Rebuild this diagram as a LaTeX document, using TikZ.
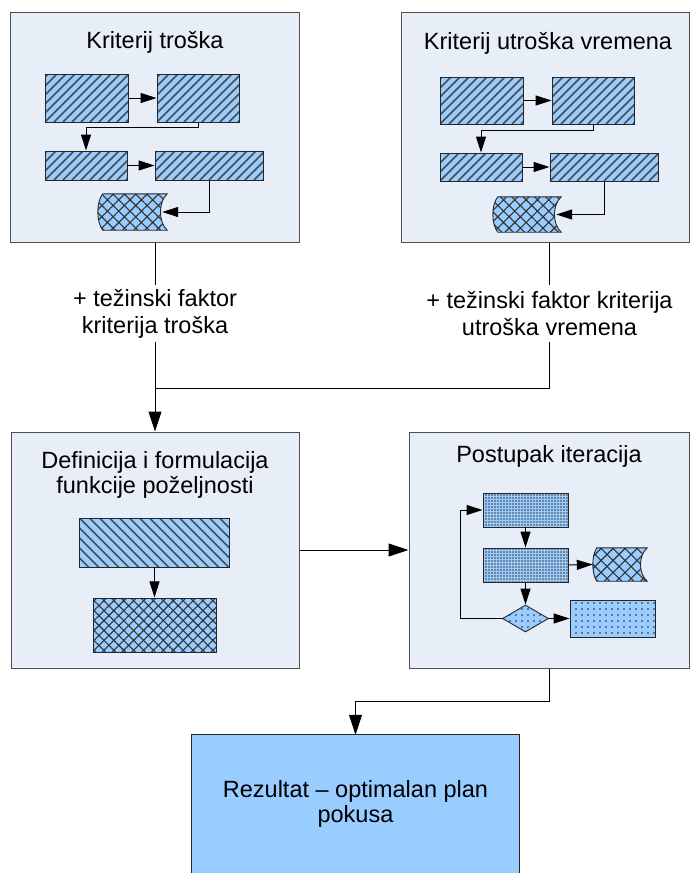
\documentclass[tikz,border=0pt]{standalone}
\usepackage{fontspec}
\setmainfont{Liberation Sans}
\usetikzlibrary{arrows.meta,patterns.meta,shapes.geometric,calc}
\definecolor{boxbg}{HTML}{E8EEF7}
\definecolor{boxline}{HTML}{505050}
\definecolor{rectblue}{HTML}{99CCFF}
\tikzset{
  cont/.style={draw=boxline, fill=boxbg, line width=1pt, inner sep=0pt},
  sbase/.style={draw=black!85, line width=0.9pt, inner sep=0pt, preaction={fill=rectblue}},
  hatchne/.style={draw=black!85, line width=0.9pt, inner sep=0pt, fill=rectblue,
    path picture={\foreach \i in {-63,-54,...,130}
      \draw[line width=1.6pt, black!70] ($(path picture bounding box.south west)+(\i,0)$) -- ++(80,-80);}},
  hatchnw/.style={draw=black!85, line width=0.9pt, inner sep=0pt, fill=rectblue,
    path picture={\foreach \i in {-60,-50,...,170}
      \draw[line width=1.6pt, black!70] ($(path picture bounding box.north west)+(\i,0)$) -- ++(80,80);}},
  xhatch/.style={sbase, pattern={Hatch[angle=45,distance=7pt,line width=1.1pt]}, pattern color=black!80},
  densedots/.style={sbase, pattern={Dots[distance=3pt,radius=0.85pt]}, pattern color=black!75},
  sparsedots/.style={sbase, pattern={Dots[distance=6pt,radius=0.9pt]}, pattern color=black!85},
  hold/.style={inner sep=0pt, draw=none},
  conn/.style={line width=1pt, draw=black},
  arr/.style={conn, -{Triangle[length=20pt,width=13pt]}},
  sarr/.style={conn, -{Triangle[length=16pt,width=10pt]}},
  txt/.style={font=\fontsize{23.5}{27}\selectfont, inner sep=0pt, align=center},
  txtb/.style={font=\fontsize{23.5}{25}\selectfont, inner sep=0pt, align=center},
}
\newcommand\stordraw[3]{%
  \path[sbase, pattern={Hatch[angle=45,distance=#2pt,line width=1.1pt]}, pattern color=black!80]
    ($(#1.north west)+(#3,0)$) -- (#1.north east)
    .. controls ($(#1.north east)+(-9,8)$) and ($(#1.south east)+(-9,-8)$) .. (#1.south east)
    -- ($(#1.south west)+(#3,0)$)
    .. controls ($(#1.south west)+(-0.33*#3,-8)$) and ($(#1.north west)+(-0.33*#3,8)$) .. ($(#1.north west)+(#3,0)$)
    -- cycle;}
\begin{document}
\begin{tikzpicture}[x=1pt,y=-1pt]
\useasboundingbox (0,0) rectangle (690,873);

% containers
\node[cont, minimum width=289pt, minimum height=230pt] (k1) at (155,127) {};
\node[cont, minimum width=288pt, minimum height=230pt] (k2) at (545,127) {};
\node[cont, minimum width=288pt, minimum height=236pt] (k3) at (155,550) {};
\node[cont, minimum width=280pt, minimum height=236pt] (k4) at (549,550) {};

% titles
\node[txt, anchor=base] (t1) at (155,48) {Kriterij troška};
\node[txt, anchor=base] (t2) at (548,49) {Kriterij utroška vremena};
\node[txtb] (t3) at (155,474.5) {Definicija i formulacija\\funkcije poželjnosti};
\node[txt, anchor=base] (t4) at (549,462) {Postupak iteracija};

% box 1 inner
\node[hatchne, minimum width=83pt, minimum height=48pt] (a1) at (86.5,98) {};
\node[hatchne, minimum width=82pt, minimum height=48pt] (b1) at (198,98) {};
\node[hatchne, minimum width=82pt, minimum height=29pt] (c1) at (86,165.5) {};
\node[hatchne, minimum width=108pt, minimum height=29pt] (d1) at (209,165.5) {};
\node[hold, minimum width=69pt, minimum height=36pt] (s1) at (132.5,212) {};
\stordraw{s1}{8}{5}
\draw[sarr] (a1.east) -- (b1.west);
\draw[sarr] (b1.south) -- ++(0,5) -| (c1.north);
\draw[sarr] (c1.east) -- (d1.west);
\draw[sarr, shorten >=-5pt] (d1.south) |- (s1.east);

% box 2 inner
\node[hatchne, minimum width=83pt, minimum height=47pt] (a2) at (481.5,100.5) {};
\node[hatchne, minimum width=82pt, minimum height=47pt] (b2) at (593,100.5) {};
\node[hatchne, minimum width=82pt, minimum height=28pt] (c2) at (481,167) {};
\node[hatchne, minimum width=108pt, minimum height=28pt] (d2) at (604,167) {};
\node[hold, minimum width=68pt, minimum height=35pt] (s2) at (527,214.5) {};
\stordraw{s2}{8}{5}
\draw[sarr] (a2.east) -- (b2.west);
\draw[sarr] (b2.south) -- ++(0,6) -| (c2.north);
\draw[sarr] (c2.east) -- (d2.west);
\draw[sarr, shorten >=-5pt] (d2.south) |- (s2.east);

% box 3 inner
\node[hatchnw, minimum width=150pt, minimum height=49pt] (e3) at (154.5,542.5) {};
\node[xhatch, minimum width=123pt, minimum height=54pt] (f3) at (154.5,625) {};
\draw[sarr] (e3.south) -- (f3.north);

% box 4 inner
\node[densedots, minimum width=85pt, minimum height=34pt] (g4) at (525.5,510) {};
\node[densedots, minimum width=85pt, minimum height=34pt] (h4) at (525.5,565) {};
\node[hold, minimum width=54pt, minimum height=33pt] (s4) at (620,564.5) {};
\stordraw{s4}{8.5}{4}
\node[sparsedots, diamond, minimum width=46pt, minimum height=27pt] (dk) at (525.5,618.5) {};
\node[sparsedots, minimum width=85pt, minimum height=37pt] (i4) at (612.5,618.5) {};
\draw[sarr] (g4.south) -- (h4.north);
\draw[sarr] (h4.east) -- (s4.west);
\draw[sarr] (h4.south) -- (dk.north);
\draw[sarr] (dk.east) -- (i4.west);
\draw[sarr] (dk.west) -- ++(-42,0) |- (g4.west);

% labels
\node[txt, minimum height=57pt] (l1) at (155,313.5) {+ težinski faktor\\kriterija troška};
\node[txt, minimum height=57pt] (l2) at (549.5,313.5) {+ težinski faktor kriterija\\utroška vremena};
\coordinate (j1) at (155,388);

% result
\node[hold, fill=rectblue, minimum width=327pt, minimum height=138pt, txtb] (res) at (355.5,804) {Rezultat – optimalan plan\\pokusa};
\draw[line width=1pt, draw=black!85] (res.south west) -- (res.north west) -- (res.north east) -- (res.south east);

% main connectors
\draw[conn] (k1.south) -- (l1.north);
\draw[arr] (l1.south) -- (k3.north);
\draw[conn] (k2.south -| l2.north) -- (l2.north);
\draw[conn] (l2.south) |- (j1);
\draw[arr] (k3.east) -- (k4.west);
\draw[arr] (k4.south) -- ++(0,33) -| (res.north);
\end{tikzpicture}
\end{document}
